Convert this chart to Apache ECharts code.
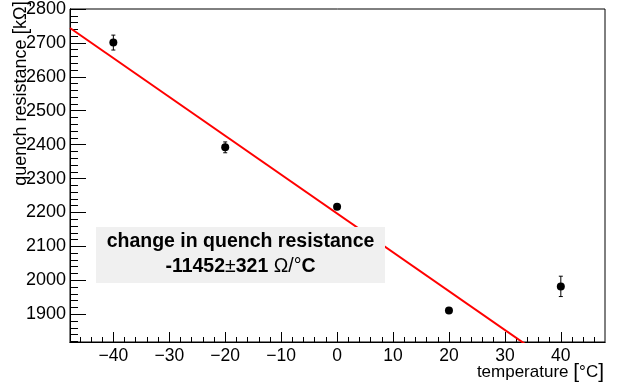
<!DOCTYPE html>
<html>
<head>
<meta charset="utf-8">
<script src="https://cdn.jsdelivr.net/npm/echarts@6/dist/echarts.min.js"></script>
<style>
html,body{margin:0;padding:0;background:#fff;}
#chart{width:622px;height:389px;}
</style>
</head>
<body>
<div id="chart"></div>
<script>
// ---- data ----
const temperatures = [-40, -20, 0, 20, 40];          // °C
const resistance   = [2701, 2392, 2217, 1911, 1982]; // kΩ
const resErrors    = [22, 16, 4, 4, 30];             // kΩ
const fitSlope = -11.452;     // kΩ/°C
const fitIntercept = 2197;    // kΩ at 0 °C
const xMajorTicks = [-40, -30, -20, -10, 0, 10, 20, 30, 40];
const xMinorTicks = [-46,-44,-42,-38,-36,-34,-32,-28,-26,-24,-22,-18,-16,-14,-12,-8,-6,-4,-2,2,4,6,8,12,14,16,18,22,24,26,28,32,34,36,38,42,44,46];
const yMajorTicks = [1900, 2000, 2100, 2200, 2300, 2400, 2500, 2600, 2700, 2800];
const yMinorTicks = [1820,1840,1860,1880,1920,1940,1960,1980,2020,2040,2060,2080,2120,2140,2160,2180,2220,2240,2260,2280,2320,2340,2360,2380,2420,2440,2460,2480,2520,2540,2560,2580,2620,2640,2660,2680,2720,2740,2760,2780];
const xRange = [-47.75, 47.9];
const yRange = [1818, 2800];
const boxLine1 = 'change in quench resistance';
const boxValue = '-11452', boxErr = '321';

const FONT = '"Liberation Sans", Arial, Helvetica, sans-serif';
const points = temperatures.map((t, i) => [t, resistance[i], resErrors[i]]);
const fitLine = xRange.map(x => [x, fitIntercept + fitSlope * x]);
const minus = v => String(v).replace('-', '\u2212');

const chart = echarts.init(document.getElementById('chart'), null, {renderer: 'canvas'});
const baseX = {
  type: 'value', min: xRange[0], max: xRange[1], position: 'bottom',
  splitLine: {show: false},
  axisLine: {show: true, onZero: false, lineStyle: {color: '#000', width: 1}}
};
const baseY = {
  type: 'value', min: yRange[0], max: yRange[1], position: 'left',
  splitLine: {show: false},
  axisLine: {show: true, onZero: false, lineStyle: {color: '#000', width: 1}}
};
chart.setOption({
  animation: false,
  backgroundColor: '#fff',
  grid: {left: 70, top: 5, right: 17, bottom: 47, show: true, borderColor: '#000', borderWidth: 1, containLabel: false},
  xAxis: [
    Object.assign({}, baseX, {
      axisTick: {show: true, inside: true, length: 10, customValues: xMajorTicks, lineStyle: {color: '#000'}},
      axisLabel: {show: true, customValues: xMajorTicks, margin: 5, color: '#000', fontSize: 17.5, fontFamily: FONT, formatter: v => minus(v)}
    }),
    Object.assign({}, baseX, {
      axisTick: {show: true, inside: true, length: 5, customValues: xMinorTicks, lineStyle: {color: '#000'}},
      axisLabel: {show: false}
    })
  ],
  yAxis: [
    Object.assign({}, baseY, {
      axisTick: {show: true, inside: true, length: 16, customValues: yMajorTicks, lineStyle: {color: '#000'}},
      axisLabel: {show: true, customValues: yMajorTicks, margin: 4, color: '#000', fontSize: 18, fontFamily: FONT, formatter: v => String(v)}
    }),
    Object.assign({}, baseY, {
      axisTick: {show: true, inside: true, length: 8, customValues: yMinorTicks, lineStyle: {color: '#000'}},
      axisLabel: {show: false}
    })
  ],
  series: [
    {
      type: 'line', data: fitLine, showSymbol: false, clip: true, z: 3,
      lineStyle: {color: '#ff0000', width: 2}
    },
    {
      type: 'custom', data: points, z: 4, clip: true,
      renderItem: function (params, api) {
        const x = api.value(0), y = api.value(1), e = api.value(2);
        const lo = api.coord([x, y - e]), hi = api.coord([x, y + e]);
        const st = {stroke: '#000', lineWidth: 1};
        return {type: 'group', children: [
          {type: 'line', shape: {x1: lo[0], y1: lo[1], x2: hi[0], y2: hi[1]}, style: st},
          {type: 'line', shape: {x1: lo[0] - 2, y1: lo[1], x2: lo[0] + 2, y2: lo[1]}, style: st},
          {type: 'line', shape: {x1: hi[0] - 2, y1: hi[1], x2: hi[0] + 2, y2: hi[1]}, style: st}
        ]};
      }
    },
    {
      type: 'scatter', data: points.map(p => [p[0], p[1]]), symbol: 'circle', symbolSize: 8, z: 5,
      itemStyle: {color: '#000', opacity: 1}
    }
  ],
  graphic: [
    {type: 'rect', z: 100, shape: {x: 96, y: 227, width: 289, height: 56}, style: {fill: '#f0f0f0'}},
    {type: 'text', z: 101, x: 240.5, y: 242, style: {text: boxLine1, fontFamily: FONT, fontWeight: 'bold', fontSize: 19.5, fill: '#000', textAlign: 'center', textVerticalAlign: 'middle'}},
    {type: 'text', z: 101, x: 240.5, y: 267, style: {
      text: '{b|' + boxValue + '}{n|\u00b1}{b|' + boxErr + ' }{n|\u03a9/\u00b0}{b|C}',
      textAlign: 'center', textVerticalAlign: 'middle', fill: '#000',
      rich: {
        b: {fontFamily: FONT, fontWeight: 'bold', fontSize: 19.5, fill: '#000'},
        n: {fontFamily: FONT, fontWeight: 'normal', fontSize: 19.5, fill: '#000'}
      }
    }},
    {type: 'text', z: 50, x: 21, y: 1, rotation: Math.PI / 2, style: {
      text: '{t|quench resistance }{br|[}{t|k\u03a9}{br|]}',
      textAlign: 'right', textVerticalAlign: 'middle', fill: '#000',
      rich: {
        t: {fontFamily: FONT, fontSize: 18, fill: '#000'},
        br: {fontFamily: FONT, fontSize: 20, fill: '#000'}
      }
    }},
    {type: 'text', z: 50, x: 604, y: 372, style: {
      text: '{t|temperature }{br|[}{t|\u00b0C}{br|]}',
      textAlign: 'right', textVerticalAlign: 'middle', fill: '#000',
      rich: {
        t: {fontFamily: FONT, fontSize: 17, fill: '#000'},
        br: {fontFamily: FONT, fontSize: 21, fill: '#000'}
      }
    }}
  ]
});
</script>
</body>
</html>
